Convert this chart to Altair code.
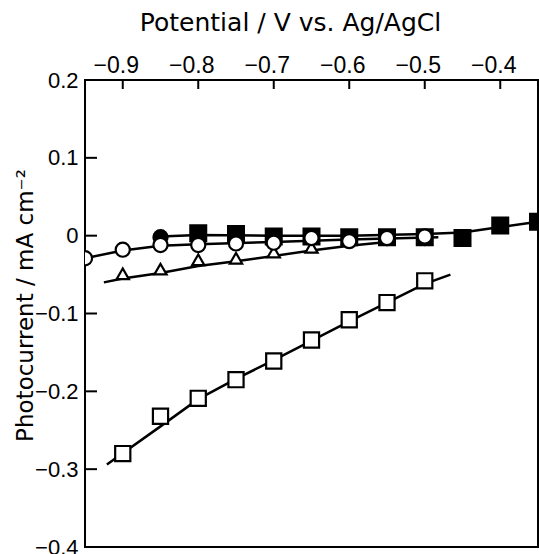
import altair as alt
import pandas as pd

# ---- data ----
# open squares (lower curve)
osq_x = [-0.90, -0.85, -0.80, -0.75, -0.70, -0.65, -0.60, -0.55, -0.50]
osq_y = [-0.280, -0.232, -0.209, -0.185, -0.161, -0.134, -0.108, -0.086, -0.058]
osq_line_x = [-0.921, -0.85, -0.80, -0.75, -0.70, -0.60, -0.50, -0.466]
osq_line_y = [-0.294, -0.245, -0.210, -0.184, -0.160, -0.110, -0.062, -0.050]

# open triangles
tri_x = [-0.90, -0.85, -0.80, -0.75, -0.70, -0.65]
tri_y = [-0.049, -0.043, -0.031, -0.029, -0.021, -0.015]
tri_line_x = [-0.925, -0.90, -0.85, -0.80, -0.75, -0.70, -0.65, -0.60, -0.55]
tri_line_y = [-0.060, -0.055, -0.048, -0.039, -0.033, -0.026, -0.019, -0.013, -0.008]

# open circles
oc_x = [-0.95, -0.90, -0.85, -0.80, -0.75, -0.70, -0.65, -0.60, -0.55, -0.50]
oc_y = [-0.029, -0.018, -0.012, -0.012, -0.010, -0.009, -0.003, -0.007, -0.003, -0.001]
oc_line_x = [-0.95, -0.90, -0.85, -0.80, -0.70, -0.60, -0.482]
oc_line_y = [-0.029, -0.019, -0.013, -0.011, -0.008, -0.005, -0.002]

# filled circles
fc_x = [-0.85, -0.80, -0.75, -0.70, -0.65, -0.60, -0.55, -0.50]
fc_y = [-0.002, 0.001, 0.001, -0.002, -0.002, -0.003, -0.003, -0.003]

# filled squares
fsq_x = [-0.80, -0.75, -0.70, -0.65, -0.60, -0.55, -0.50, -0.45, -0.40, -0.35]
fsq_y = [0.003, 0.002, -0.001, -0.001, -0.002, -0.002, -0.002, -0.003, 0.013, 0.018]
fsq_line_x = [-0.85, -0.80, -0.70, -0.60, -0.50, -0.45, -0.40, -0.35]
fsq_line_y = [-0.001, 0.001, 0.000, 0.000, 0.002, 0.004, 0.011, 0.018]

x_ticks = [-0.9, -0.8, -0.7, -0.6, -0.5, -0.4]
y_ticks = [0.2, 0.1, 0.0, -0.1, -0.2, -0.3, -0.4]

# ---- chart ----
LABEL_FONT = "Liberation Sans"
TITLE_FONT = "DejaVu Sans"

xs = alt.Scale(domain=[-0.95, -0.35], nice=False, zero=False)
ys = alt.Scale(domain=[-0.4, 0.2], nice=False, zero=False)

xaxis = alt.Axis(
    orient="top", values=x_ticks, title="Potential / V vs. Ag/AgCl",
    format=".1f", labelFont=LABEL_FONT, labelFontSize=23, labelColor="black",
    labelPadding=8, labelBaseline="alphabetic", labelOffset=-7,
    titleFont=TITLE_FONT, titleFontSize=25, titleFontWeight="normal", titleColor="black",
    titleX=205, titleY=-50, titleAlign="center", titleBaseline="alphabetic",
    domain=False, ticks=False, grid=False, labelFlush=False,
)
yaxis = alt.Axis(
    orient="left", values=y_ticks, title="Photocurrent / mA cm\u207b\u00b2",
    labelExpr="datum.value == 0 ? '0' : format(datum.value, '.1f')",
    labelFont=LABEL_FONT, labelFontSize=22, labelColor="black", labelPadding=7,
    titleFont=TITLE_FONT, titleFontSize=23, titleFontWeight="normal", titleColor="black",
    titleX=-53, titleY=225, titleAlign="center", titleBaseline="alphabetic", titleAngle=270,
    domain=False, ticks=False, grid=False, labelFlush=False,
)


def X(f):
    return alt.X(f, type="quantitative", scale=xs, axis=xaxis)


def Y(f):
    return alt.Y(f, type="quantitative", scale=ys, axis=yaxis)


def df(xv, yv):
    return pd.DataFrame({"x": xv, "y": yv})


def line(xv, yv):
    return alt.Chart(df(xv, yv)).mark_line(color="black", strokeWidth=2.5, clip=True).encode(
        x=X("x"), y=Y("y"))


def pts(xv, yv, shape, size, fill):
    return alt.Chart(df(xv, yv)).mark_point(
        shape=shape, size=size, filled=True, fill=fill, stroke="black",
        strokeWidth=2.2, opacity=1, clip=True).encode(x=X("x"), y=Y("y"))


xt = alt.Chart(pd.DataFrame({"x": x_ticks})).mark_rule(color="black", strokeWidth=2).encode(
    x=X("x"), y=alt.value(0), y2=alt.value(9))
yt = alt.Chart(pd.DataFrame({"y": y_ticks})).mark_rule(color="black", strokeWidth=2).encode(
    y=Y("y"), x=alt.value(0), x2=alt.value(12))

chart = alt.layer(
    xt, yt,
    line(osq_line_x, osq_line_y),
    line(tri_line_x, tri_line_y),
    line(fsq_line_x, fsq_line_y),
    line(oc_line_x, oc_line_y),
    pts(tri_x, tri_y, "triangle-up", 150, "white"),
    pts(osq_x, osq_y, "square", 230, "white"),
    pts(fc_x, fc_y, "circle", 200, "black"),
    pts(fsq_x, fsq_y, "square", 250, "black"),
    pts(oc_x, oc_y, "circle", 200, "white"),
).properties(
    width=453, height=467,
    autosize=alt.AutoSizeParams(type="none"),
    padding={"left": 85, "top": 80, "right": 1, "bottom": 7},
    background="white",
).configure_view(stroke="black", strokeWidth=2)

chart.save("out.html", embed_options={"renderer": "svg", "actions": False})
